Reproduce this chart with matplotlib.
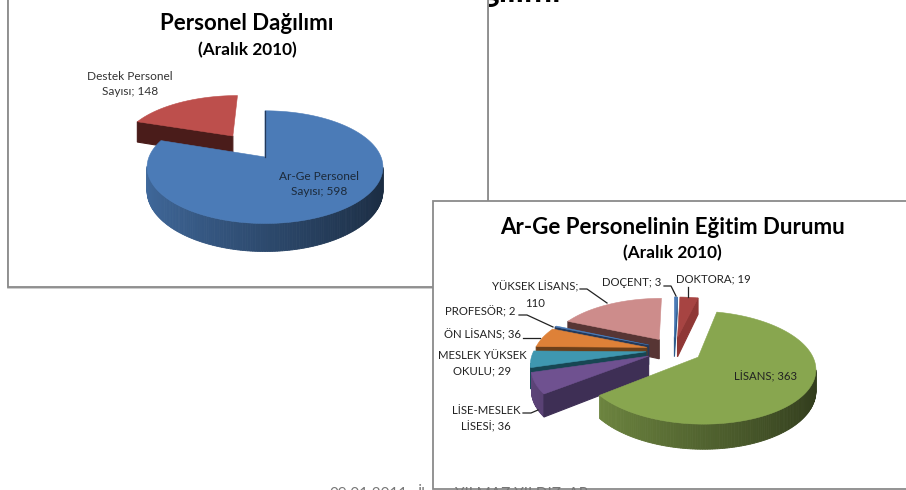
import numpy as np
import matplotlib
matplotlib.use('Agg')
import matplotlib.pyplot as plt
from matplotlib.patches import Rectangle

plt.rcParams['font.family'] = ['Lato', 'DejaVu Sans']

# left chart
staff_names = ['Ar-Ge Personel Sayısı', 'Destek Personel Sayısı']
staff_values = [598, 148]
staff_colors = ['#4b7bb7', '#bd4f4c']
staff_walls = ['#24395a', '#4a1c1a']

# right chart, clockwise from 12 o'clock
edu_names = ['DOÇENT', 'DOKTORA', 'LİSANS', 'LİSE-MESLEK LİSESİ', 'MESLEK YÜKSEK OKULU',
             'ÖN LİSANS', 'PROFESÖR', 'YÜKSEK LİSANS']
edu_values = [3, 19, 363, 36, 29, 36, 2, 110]
edu_colors = ['#4b7bb7', '#a74442', '#88a64f', '#6f5190', '#3f97b0', '#de8138', '#4b7bb7', '#cd8c8b']
edu_walls = ['#2c5a8c', '#8f3735', '#3a4a1e', '#3e2f55', '#174653', '#6b3f1a', '#24395a', '#573534']
edu_draw_order = [0, 1, 7, 6, 5, 4, 3, 2]

K = 0.18  # perspective strength


def project(u, v, cx, cy, rx, ry, drop=0):
    w = 1 / (1 - K * v)
    return cx + rx * u * w, cy + ry * v * w + drop * w


def shade(color, u):
    rgb = np.array(matplotlib.colors.to_rgb(color))
    return tuple(rgb * (0.85 - 0.5 * (u + 1) / 2))


def draw_slice(ax, t0, t1, color, wall, explode, cx, cy, rx, ry, h):
    mid = (t0 + t1) / 2
    ou, ov = explode * np.sin(mid), -explode * np.cos(mid)
    n = max(3, int(np.degrees(t1 - t0)))
    th = np.linspace(t0, t1, n)
    us = ou + np.sin(th)
    vs = ov - np.cos(th)
    cam_v = 1 / K

    # outer side, shaded left to right
    for i in range(n - 1):
        nu, nv = np.sin(th[i]), -np.cos(th[i])
        if nu * (0 - us[i]) + nv * (cam_v - vs[i]) <= 0:
            continue
        a = project(us[i], vs[i], cx, cy, rx, ry)
        b = project(us[i + 1], vs[i + 1], cx, cy, rx, ry)
        c = project(us[i + 1], vs[i + 1], cx, cy, rx, ry, h)
        d = project(us[i], vs[i], cx, cy, rx, ry, h)
        col = shade(color, np.sin(th[i]))
        ax.fill([a[0], b[0], c[0], d[0]], [a[1], b[1], c[1], d[1]], color=col, lw=0.6, zorder=3)

    # the two cut faces, only the ones turned to the front
    for t, sign in ((t0, -1), (t1, 1)):
        nu, nv = sign * np.cos(t), sign * np.sin(t)
        if nv <= 1e-6:
            continue
        ru, rv = ou + np.sin(t), ov - np.cos(t)
        a = project(ou, ov, cx, cy, rx, ry)
        b = project(ru, rv, cx, cy, rx, ry)
        c = project(ru, rv, cx, cy, rx, ry, h)
        d = project(ou, ov, cx, cy, rx, ry, h)
        ax.fill([a[0], b[0], c[0], d[0]], [a[1], b[1], c[1], d[1]], color=wall, lw=0.8, zorder=3)

    # top face
    px, py = project(np.append(us, ou), np.append(vs, ov), cx, cy, rx, ry)
    ax.fill(px, py, color=color, lw=0.4, zorder=3)

    # edge-on cut at 12 o'clock shows as a thin dark line
    if explode == 0:
        ex, ey = project(np.array([ou, ou + np.sin(t0)]), np.array([ov, ov - np.cos(t0)]), cx, cy, rx, ry)
        ax.plot(ex, ey, color=wall, lw=0.9, zorder=3.1)


def draw_pie(ax, values, colors, walls, order, explodes, cx, cy, rx, ry, h):
    edges = np.radians(np.concatenate([[0], np.cumsum(values)]) / np.sum(values) * 360)
    for i in order:
        draw_slice(ax, edges[i], edges[i + 1], colors[i], walls[i], explodes[i], cx, cy, rx, ry, h)


fig = plt.figure(figsize=(9.06, 4.9), dpi=100)
ax = fig.add_axes([0, 0, 1, 1])
ax.set_xlim(0, 906)
ax.set_ylim(490, 0)
ax.axis('off')

# slide text that peeks out behind the charts
ax.text(481, 2, 'ğılımı', fontsize=24, fontweight='bold', color='black', ha='left', va='baseline', zorder=1)
ax.text(329, 498, '09.01.2011', fontsize=11, color='#777777', ha='left', va='baseline', zorder=1)
ax.text(418, 498, 'İl', fontsize=11, color='#777777', ha='left', va='baseline', zorder=1)

# left chart frame
ax.add_patch(Rectangle((8, -5), 480, 293, fc='none', ec='#c4c4c4', lw=1.2, zorder=1.5))
ax.add_patch(Rectangle((8, -5), 480, 292, fc='white', ec='#8a8a8a', lw=1.3, zorder=2))

# blue starts at 12 o'clock, red is pulled out and painted first
draw_pie(ax, staff_values, staff_colors, staff_walls, [1, 0], [0, 0.51], 265, 157, 116, 54.5, 23)

ax.text(247, 24, 'Personel Dağılımı', fontsize=16, fontweight='bold', ha='center', va='center', zorder=5)
ax.text(247, 50, '(Aralık 2010)', fontsize=12.4, fontweight='bold', ha='center', va='center', zorder=5)
ax.text(130, 84, 'Destek Personel\nSayısı; 148', fontsize=8.6, color='#333333', ha='center', va='center',
        linespacing=1.5, zorder=5)
ax.text(319, 184, 'Ar-Ge Personel\nSayısı; 598', fontsize=8.6, color='#1c2a3a', ha='center', va='center',
        linespacing=1.5, zorder=5)

# right chart frame
ax.add_patch(Rectangle((433, 201), 480, 288, fc='white', ec='#8a8a8a', lw=1.3, zorder=2.5))
ax.text(455, 498, 'YILMAZ YILDIZ, AR', fontsize=11, color='#777777', ha='left', va='baseline', zorder=2.6)

draw_pie(ax, edu_values, edu_colors, edu_walls, edu_draw_order, [0.25] * len(edu_values), 674, 350, 112, 52, 20)

ax.text(673, 227, 'Ar-Ge Personelinin Eğitim Durumu', fontsize=16, fontweight='bold', ha='center', va='center', zorder=5)
ax.text(672, 253, '(Aralık 2010)', fontsize=12.4, fontweight='bold', ha='center', va='center', zorder=5)

labels = [
    ('YÜKSEK LİSANS;\n110', 535, 295),
    ('DOÇENT; 3', 632, 282),
    ('DOKTORA; 19', 713, 279),
    ('PROFESÖR; 2', 480, 312),
    ('ÖN LİSANS; 36', 482, 335),
    ('MESLEK YÜKSEK\nOKULU; 29', 482, 363),
    ('LİSANS; 363', 766, 377),
    ('LİSE-MESLEK\nLİSESİ; 36', 486, 419),
]
for txt, x, y in labels:
    ax.text(x, y, txt, fontsize=8.2, color='#222222', ha='center', va='center', linespacing=1.55, zorder=5)

leaders = [
    ([580, 587, 607], [289, 289, 303]),
    ([664, 671, 676], [286, 286, 296]),
    ([688, 688], [287, 297]),
    ([519, 527, 553], [315, 315, 327]),
    ([523, 540], [338, 338]),
    ([523, 531, 538], [413, 413, 410]),
]
for xs, ys in leaders:
    ax.plot(xs, ys, color='#222222', lw=0.9, zorder=5)

fig.savefig('out.png', dpi=100)
